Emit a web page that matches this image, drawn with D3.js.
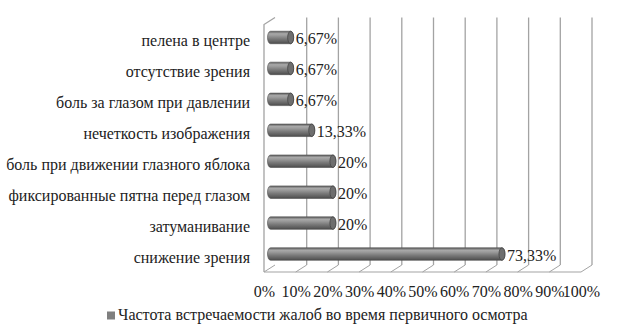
<!DOCTYPE html>
<html><head><meta charset="utf-8">
<script src="https://cdn.jsdelivr.net/npm/d3@7/dist/d3.min.js"></script>
<style>body{margin:0;background:#fff;} svg{display:block;} text{font-family:"Liberation Serif","Tinos","Noto Serif","FreeSerif","DejaVu Serif","Times New Roman",serif;}</style>
</head><body>
<script>
const categories = ["снижение зрения","затуманивание","фиксированные пятна перед глазом","боль при движении глазного яблока","нечеткость изображения","боль за глазом при давлении","отсутствие зрения","пелена в центре"];
const values = [73.33, 20, 20, 20, 13.33, 6.67, 6.67, 6.67];
const valueLabels = ["73,33%","20%","20%","20%","13,33%","6,67%","6,67%","6,67%"];
const tickValues = [0,10,20,30,40,50,60,70,80,90,100];
const seriesName = "Частота встречаемости жалоб во время первичного осмотра";

const W = 635, H = 335, FS = 16;
const svg = d3.select("body").append("svg").attr("width", W).attr("height", H);

const x = d3.scaleLinear().domain([0,100]).range([264,581]);
const y = d3.scaleBand().domain(categories.slice().reverse()).range([25.5,273]);
const DX = 11, DY = -7;
const MX = DX/2, MY = DY/2;
const floorY = 272, topBack = 17.5;
const grid = "#a3a3a3";

const defs = svg.append("defs");
const g = defs.append("linearGradient").attr("id","cyl").attr("x1",0).attr("y1",0).attr("x2",0).attr("y2",1);
[[0,"#5c5c5c"],[0.2,"#a8a8a8"],[0.35,"#9a9a9a"],[0.6,"#7a7a7a"],[0.85,"#5e5e5e"],[1,"#4a4a4a"]]
  .forEach(([o,c])=>g.append("stop").attr("offset",o).attr("stop-color",c));

svg.append("g").selectAll("line").data(tickValues.filter(t=>t>0)).join("line")
  .attr("x1",d=>x(d)+DX).attr("x2",d=>x(d)+DX)
  .attr("y1",topBack).attr("y2",floorY+DY)
  .attr("stroke",grid).attr("stroke-width",1.3);
svg.append("g").selectAll("line").data(tickValues).join("line")
  .attr("x1",d=>x(d)).attr("y1",floorY)
  .attr("x2",d=>x(d)+DX).attr("y2",floorY+DY)
  .attr("stroke",grid).attr("stroke-width",1);
svg.append("line").attr("x1",x(0)).attr("x2",x(100)).attr("y1",floorY).attr("y2",floorY)
  .attr("stroke",grid).attr("stroke-width",1.2);
svg.append("path")
  .attr("d",`M${x(0)},${floorY} L${x(0)},${topBack-DY} L${x(0)+DX},${topBack}`)
  .attr("fill","none").attr("stroke",grid).attr("stroke-width",1.3);

const h = 12.5, rx = 3;
const bars = svg.append("g").selectAll("g").data(categories.map((c,i)=>({c,v:values[i],l:valueLabels[i]}))).join("g");
bars.append("path")
  .attr("d",d=>{
    const yc = y(d.c)+y.bandwidth()/2+MY, xs = x(0)+MX+1, xe = x(d.v)+MX;
    return `M${xs},${yc-h/2} L${xe},${yc-h/2} A${rx},${h/2} 0 0 1 ${xe},${yc+h/2} L${xs},${yc+h/2} A${rx},${h/2} 0 0 1 ${xs},${yc-h/2} Z`;
  })
  .attr("fill","url(#cyl)").attr("stroke","#4d4d4d").attr("stroke-width",0.6);
bars.append("ellipse")
  .attr("cx",d=>x(d.v)+MX).attr("cy",d=>y(d.c)+y.bandwidth()/2+MY)
  .attr("rx",rx).attr("ry",h/2)
  .attr("fill","#6e6e6e").attr("stroke","#3f3f3f").attr("stroke-width",0.7);
bars.append("text")
  .attr("x",d=>x(d.v)+MX+5).attr("y",d=>y(d.c)+y.bandwidth()/2+MY+6.5)
  .attr("font-size",FS).attr("fill","#222")
  .text(d=>d.l);

svg.append("g").selectAll("text").data(categories).join("text")
  .attr("x",250).attr("y",d=>y(d)+y.bandwidth()/2+5)
  .attr("text-anchor","end").attr("font-size",FS).attr("fill","#222")
  .text(d=>d);

const ax = svg.append("g").attr("transform",`translate(0,${floorY})`)
  .call(d3.axisBottom(x).tickValues(tickValues).tickSize(0).tickPadding(0).tickFormat(d=>d+"%"));
ax.select(".domain").remove();
ax.attr("font-family",null);
ax.selectAll("text").attr("font-size",FS).attr("fill","#222")
  .attr("dy",null).attr("y",25);

svg.append("rect").attr("x",107).attr("y",311.5).attr("width",8).attr("height",8).attr("fill","#7f7f7f");
svg.append("text").attr("x",118).attr("y",320).attr("font-size",FS).attr("fill","#222")
  .text(seriesName);
</script>
</body></html>
